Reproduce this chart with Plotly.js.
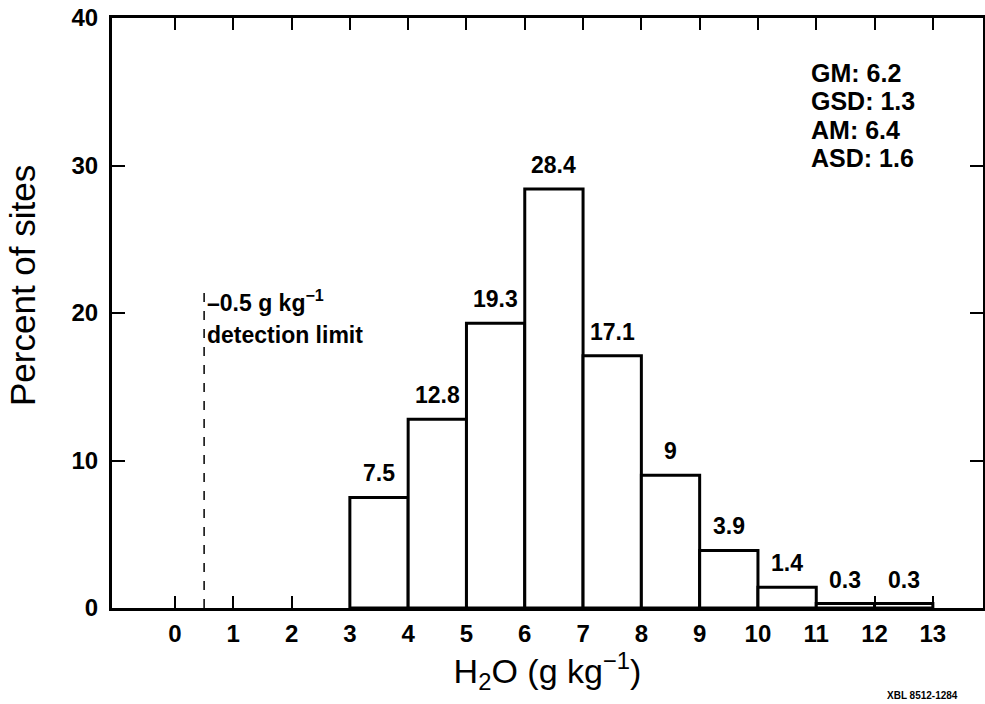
<!DOCTYPE html>
<html>
<head>
<meta charset="utf-8">
<script src="https://cdn.plot.ly/plotly-3.0.1.min.js"></script>
<style>html,body{margin:0;padding:0;background:#fff;}#chart{width:985px;height:704px;}</style>
</head>
<body>
<div id="chart"></div>
<script>
// ---- data ----
const binCenters = [3.5, 4.5, 5.5, 6.5, 7.5, 8.5, 9.5, 10.5, 11.5, 12.5];
const percentSites = [7.5, 12.8, 19.3, 28.4, 17.1, 9, 3.9, 1.4, 0.3, 0.3];
const barLabels = ["7.5", "12.8", "19.3", "28.4", "17.1", "9", "3.9", "1.4", "0.3", "0.3"];
const xTickVals = [0,1,2,3,4,5,6,7,8,9,10,11,12,13];
const xTickText = ["0","1","2","3","4","5","6","7","8","9","10","11","12","13"];
const yTickVals = [0,10,20,30,40];
const detectionLimit = 0.5;
const detectionLineTop = 21.5;
const statLines = ["GM: 6.2", "GSD: 1.3", "AM: 6.4", "ASD: 1.6"];

const FONT = '"Liberation Sans", Arial, Helvetica, sans-serif';

const traces = [
  {
    type: 'bar',
    x: binCenters,
    y: percentSites,
    width: 1,
    marker: {color: '#ffffff', line: {color: '#000000', width: 3}},
    hoverinfo: 'x+y',
    showlegend: false
  },
  {
    type: 'scatter',
    mode: 'lines',
    x: [detectionLimit, detectionLimit],
    y: [0, detectionLineTop],
    line: {color: '#000', width: 1.5, dash: 'dash'},
    showlegend: false,
    hoverinfo: 'skip'
  }
];

const annotations = [];
binCenters.forEach((c, i) => {
  annotations.push({
    x: c, y: percentSites[i], xref: 'x', yref: 'y',
    text: barLabels[i], showarrow: false,
    xanchor: 'center', yanchor: 'bottom', yshift: 9,
    font: {family: FONT, size: 23, weight: 'bold', color: '#000'}
  });
});
statLines.forEach((s, i) => {
  annotations.push({
    x: 10.87, y: 36.3 - i * 1.93, xref: 'x', yref: 'y',
    text: s, showarrow: false, xanchor: 'left', yanchor: 'middle',
    font: {family: FONT, size: 25, weight: 'bold', color: '#000'}
  });
});
annotations.push({
  x: detectionLimit, y: 20.8, xref: 'x', yref: 'y', xshift: 1,
  text: '–0.5 g kg<sup>−1</sup>', showarrow: false, xanchor: 'left', yanchor: 'middle',
  font: {family: FONT, size: 23, weight: 'bold', color: '#000'}
});
annotations.push({
  x: detectionLimit, y: 18.5, xref: 'x', yref: 'y', xshift: 1,
  text: 'detection limit', showarrow: false, xanchor: 'left', yanchor: 'middle',
  font: {family: FONT, size: 23, weight: 'bold', color: '#000'}
});
annotations.push({
  x: -0.102, y: 0.546, xref: 'paper', yref: 'paper',
  text: 'Percent of sites', textangle: -90, showarrow: false,
  xanchor: 'center', yanchor: 'middle',
  font: {family: FONT, size: 35, color: '#000'}
});
annotations.push({
  x: 0.887, y: -0.161, xref: 'paper', yref: 'paper',
  text: 'XBL 8512-1284', showarrow: false, xanchor: 'left', yanchor: 'bottom',
  font: {family: FONT, size: 10, weight: 'bold', color: '#000'}
});

const layout = {
  width: 985, height: 704,
  margin: {l: 112, r: 2, t: 18, b: 96, pad: 0},
  paper_bgcolor: '#fff', plot_bgcolor: '#fff',
  bargap: 0,
  showlegend: false,
  xaxis: {
    range: [-1.08, 13.86],
    tickvals: xTickVals, ticktext: xTickText,
    ticks: 'inside', ticklen: 12, tickwidth: 2, tickcolor: '#000',
    showline: true, linewidth: 3, linecolor: '#000', mirror: 'allticks',
    showgrid: false, zeroline: false,
    ticklabelstandoff: 2,
    tickfont: {family: FONT, size: 24, weight: 'bold', color: '#000'},
    title: {text: 'H<sub>2</sub>O (g kg<sup>−1</sup>)', standoff: 8,
            font: {family: FONT, size: 34, color: '#000'}},
    automargin: false
  },
  yaxis: {
    range: [0, 40],
    tickvals: yTickVals,
    ticks: 'inside', ticklen: 13, tickwidth: 2, tickcolor: '#000',
    showline: true, linewidth: 3, linecolor: '#000', mirror: 'allticks',
    showgrid: false, zeroline: false,
    ticklabelstandoff: 6,
    tickfont: {family: FONT, size: 24, weight: 'bold', color: '#000'},
    automargin: false
  },
  annotations: annotations
};

Plotly.newPlot('chart', traces, layout, {displayModeBar: false, staticPlot: true});
</script>
</body>
</html>
